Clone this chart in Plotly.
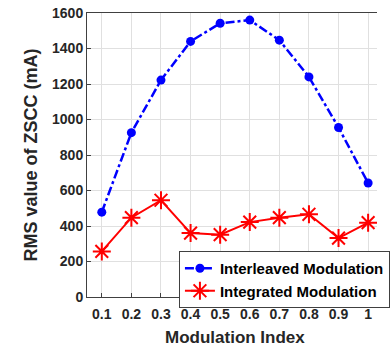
import plotly.graph_objects as go

mod_index = [0.1, 0.2, 0.3, 0.4, 0.5, 0.6, 0.7, 0.8, 0.9, 1.0]
interleaved = [478, 926, 1222, 1440, 1542, 1560, 1447, 1240, 955, 642]
integrated = [257, 447, 545, 360, 351, 422, 447, 466, 332, 419]
x_ticks = [0.1, 0.2, 0.3, 0.4, 0.5, 0.6, 0.7, 0.8, 0.9, 1.0]
x_labels = ["0.1", "0.2", "0.3", "0.4", "0.5", "0.6", "0.7", "0.8", "0.9", "1"]
y_ticks = [0, 200, 400, 600, 800, 1000, 1200, 1400, 1600]

font_family = "Liberation Sans, Arial, sans-serif"
text_color = "#262626"

fig = go.Figure()
fig.add_trace(go.Scatter(
    x=mod_index, y=interleaved, mode="lines+markers",
    name="Interleaved Modulation",
    line=dict(color="#0000ff", width=2.5, dash="dashdot"),
    marker=dict(symbol="circle", size=9, color="#0000ff"),
))
fig.add_trace(go.Scatter(
    x=mod_index, y=integrated, mode="lines+markers",
    name="Integrated Modulation",
    line=dict(color="#ff0000", width=2),
    marker=dict(symbol="asterisk-open", size=15, color="#ff0000",
                line=dict(color="#ff0000", width=2)),
))

# Plot area spans x = 87..397 px for the range 0.05..1.05; the window clips at 390
plot_left, plot_right_full = 87, 397
fig.update_layout(
    width=390, height=349,
    margin=dict(l=87, r=0, t=13, b=52),
    paper_bgcolor="white", plot_bgcolor="white",
    font=dict(family=font_family, color=text_color),
    showlegend=True,
    legend=dict(
        x=0.317, y=0.162, xanchor="left", yanchor="top",
        bgcolor="white", bordercolor="#404040", borderwidth=1,
        font=dict(family=font_family, size=15, color="#000000", weight="bold"),
        tracegroupgap=0, itemwidth=30,
    ),
    annotations=[
        dict(text="Modulation Index", xref="paper", yref="paper",
             x=((plot_left + plot_right_full) / 2 - plot_left) / (390 - plot_left),
             y=-0.143, xanchor="center", yanchor="middle", showarrow=False,
             font=dict(size=17, color=text_color, weight="bold")),
    ],
)
fig.update_xaxes(
    range=[0.05, 1.03], tickvals=x_ticks, ticktext=x_labels,
    showgrid=True, gridcolor="#e0e0e0", gridwidth=1,
    showline=True, linecolor="#404040", linewidth=1, mirror=True,
    ticks="inside", ticklen=4, tickcolor="#404040",
    ticklabelstandoff=4,
    tickfont=dict(size=14, color=text_color, weight="bold"),
    zeroline=False,
)
fig.update_yaxes(
    range=[0, 1600], tickvals=y_ticks,
    showgrid=True, gridcolor="#e0e0e0", gridwidth=1,
    showline=True, linecolor="#404040", linewidth=1,
    ticks="inside", ticklen=4, tickcolor="#404040",
    tickfont=dict(size=14, color=text_color, weight="bold"),
    title=dict(text="RMS value of ZSCC (mA)", standoff=9,
               font=dict(size=18, color=text_color, weight="bold")),
    zeroline=False,
)

fig.write_html("out.html")
